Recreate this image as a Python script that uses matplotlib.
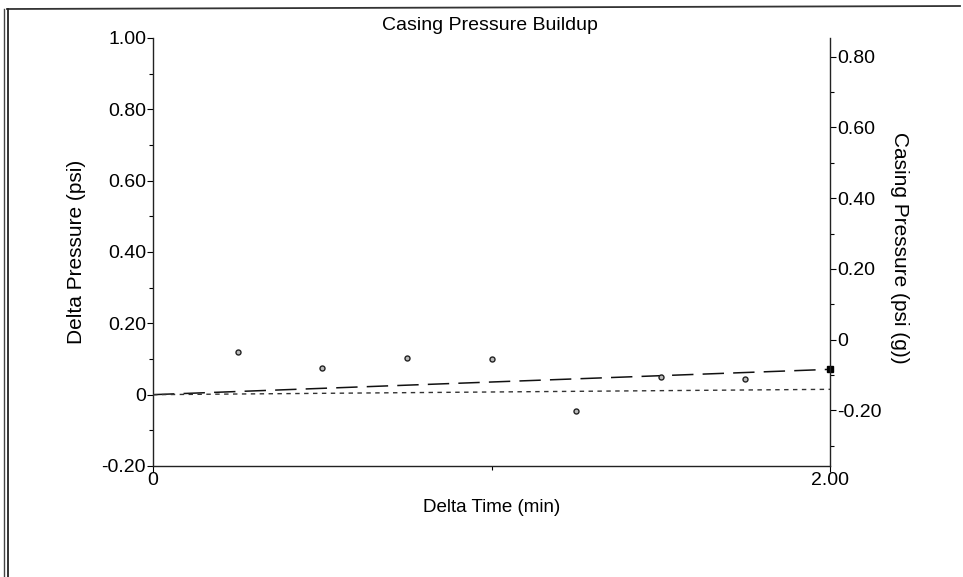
import matplotlib
matplotlib.use("Agg")
import matplotlib.pyplot as plt
from matplotlib.lines import Line2D
from matplotlib.ticker import MultipleLocator, FixedLocator

plt.rcParams['font.family'] = ['Liberation Sans', 'DejaVu Sans']

# readings every quarter minute
delta_time = [0.25, 0.50, 0.75, 1.00, 1.25, 1.50, 1.75]
delta_pressure = [0.119, 0.074, 0.104, 0.099, -0.046, 0.050, 0.043]

# fitted trend (dashed) and reference (dotted) lines
trend_time = [0.0, 2.0]
trend_pressure = [0.0, 0.071]
ref_time = [0.0, 2.0]
ref_pressure = [0.0, 0.015]

# last casing reading at end of window
end_time = [2.0]
end_pressure = [0.071]

left_ticks = [-0.20, 0, 0.20, 0.40, 0.60, 0.80, 1.00]
left_labels = ["-0.20", "0", "0.20", "0.40", "0.60", "0.80", "1.00"]
right_ticks = [-0.20, 0, 0.20, 0.40, 0.60, 0.80]
right_labels = ["-0.20", "0", "0.20", "0.40", "0.60", "0.80"]
x_ticks = [0, 2.0]
x_labels = ["0", "2.00"]

fig = plt.figure(figsize=(9.63, 5.77), dpi=100)
ax = fig.add_axes((153 / 963, 1 - 466 / 577, 677 / 963, 428 / 577))

ax.plot(trend_time, trend_pressure, color="#111111", lw=1.1,
        dashes=(14, 6), zorder=3)
ax.plot(ref_time, ref_pressure, color="#333333", lw=1.0,
        dashes=(3.2, 3.2), zorder=3)
ax.plot(delta_time, delta_pressure, ls="none", marker="o", ms=3.6,
        mfc="#bbbbbb", mec="#222222", mew=1.0, zorder=4)
ax.plot(end_time, end_pressure, ls="none", marker="s", ms=4,
        color="black", zorder=5, clip_on=False)

ax.set_xlim(0, 2.0)
ax.set_ylim(-0.20, 1.00)
ax.set_xticks(x_ticks, x_labels, fontsize=14)
ax.xaxis.set_minor_locator(FixedLocator([1.0]))
ax.set_yticks(left_ticks, left_labels, fontsize=14)
ax.yaxis.set_minor_locator(MultipleLocator(0.1))
ax.tick_params(axis="x", which="major", length=4, width=0.8, pad=0)
ax.tick_params(axis="x", which="minor", length=3, width=0.8)
ax.tick_params(axis="y", which="major", length=4, width=0.8, pad=1)
ax.tick_params(axis="y", which="minor", length=3, width=0.8)
ax.spines["top"].set_visible(False)
ax.spines["right"].set_visible(False)
for s in ("left", "bottom"):
    ax.spines[s].set_linewidth(1.0)
    ax.spines[s].set_color("#222222")

ax.set_xlabel("Delta Time (min)", fontsize=13.5)
ax.xaxis.set_label_coords(0.5, -0.077)
ax.set_ylabel("Delta Pressure (psi)", fontsize=15)
ax.yaxis.set_label_coords(-0.099, 0.50)

ax2 = ax.twinx()
ax2.set_ylim(-0.357, 0.853)
ax2.set_yticks(right_ticks, right_labels, fontsize=14)
ax2.yaxis.set_minor_locator(MultipleLocator(0.1))
ax2.tick_params(axis="y", which="major", length=4, width=0.8, pad=1)
ax2.tick_params(axis="y", which="minor", length=3, width=0.8)
for s in ("top", "left", "bottom"):
    ax2.spines[s].set_visible(False)
ax2.spines["right"].set_linewidth(1.0)
ax2.spines["right"].set_color("#222222")
ax2.set_ylabel("Casing Pressure (psi (g))", fontsize=15, rotation=270)
ax2.yaxis.set_label_coords(1.117, 0.51)

fig.text(490 / 963, 1 - 25 / 577, "Casing Pressure Buildup", fontsize=14,
         ha="center", va="center")

# page frame around the chart
fig.add_artist(Line2D([7 / 963, 960 / 963], [1 - 9 / 577, 1 - 6 / 577],
                      transform=fig.transFigure, color="#333333", lw=1.3))
fig.add_artist(Line2D([3.5 / 963, 3.5 / 963], [0, 1 - 9 / 577],
                      transform=fig.transFigure, color="#444444", lw=1.0))
fig.add_artist(Line2D([7.5 / 963, 7.5 / 963], [0, 1 - 9 / 577],
                      transform=fig.transFigure, color="#222222", lw=1.3))

fig.savefig("out.png", dpi=100)
